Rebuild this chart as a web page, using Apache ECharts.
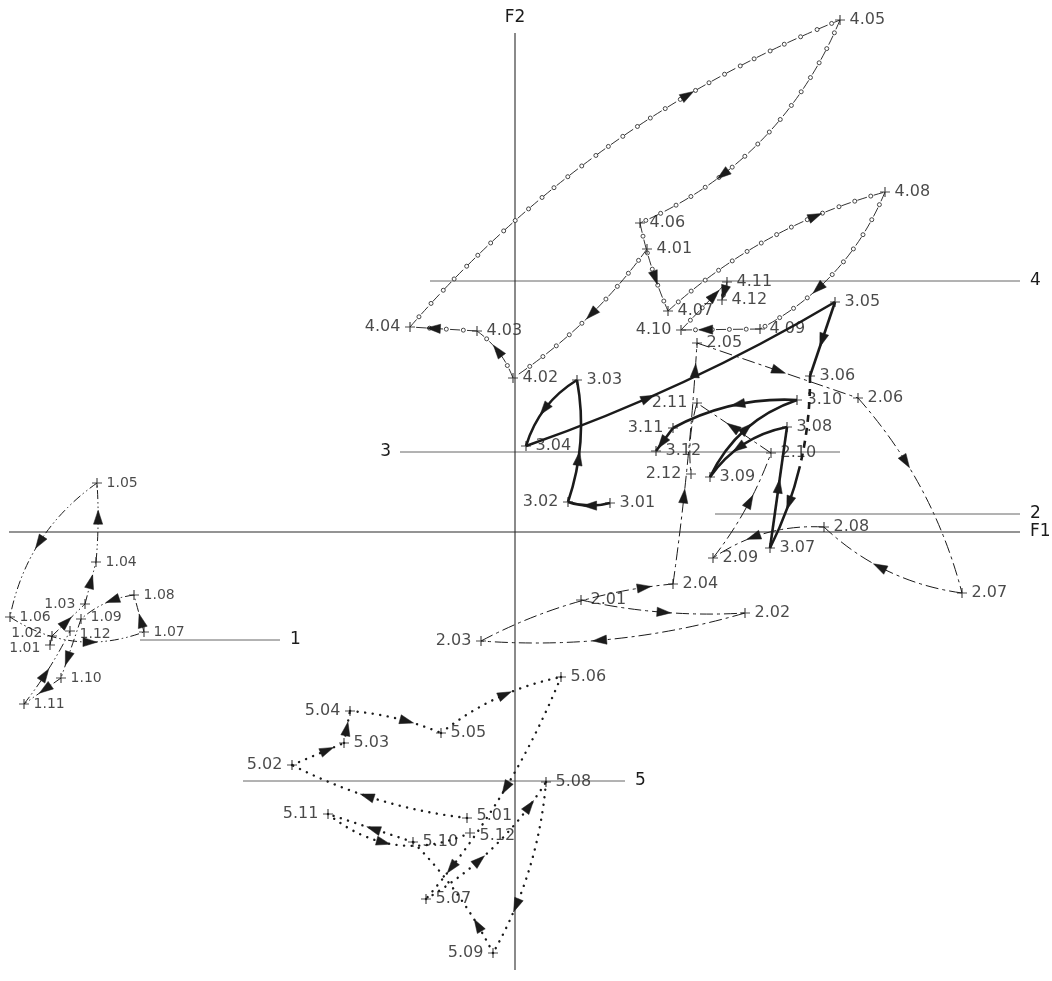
<!DOCTYPE html>
<html>
<head>
<meta charset="utf-8">
<script src="https://cdn.jsdelivr.net/npm/echarts@6/dist/echarts.min.js"></script>
<style>
  html, body { margin: 0; padding: 0; background: #ffffff; }
  #chart { width: 1052px; height: 981px; }
</style>
</head>
<body>
<div id="chart"></div>
<script>
// Monthly positions (.01 … .12) of the five series on the factor plane F1 x F2
const g1F1 = [-4.65, -4.63, -4.30, -4.19, -4.18, -5.05, -3.71, -3.81, -4.34, -4.54, -4.91, -4.45];
const g1F2 = [-1.13, -1.04, -0.72, -0.30, 0.49, -0.85, -1.00, -0.63, -0.87, -1.46, -1.72, -0.99];

const g2F1 = [0.66, 2.30, -0.34, 1.58, 1.82, 3.43, 4.47, 3.09, 1.98, 2.56, 1.82, 1.76];
const g2F2 = [-0.68, -0.81, -1.09, -0.52, 1.89, 1.34, -0.61, 0.05, -0.26, 0.79, 1.29, 0.58];

const g3F1 = [0.95, 0.53, 0.62, 0.11, 3.20, 2.95, 2.55, 2.72, 1.95, 2.82, 1.58, 1.41];
const g3F2 = [0.29, 0.30, 1.52, 0.86, 2.30, 1.56, -0.16, 1.05, 0.55, 1.32, 1.04, 0.81];

const g4F1 = [1.32, -0.02, -0.38, -1.05, 3.25, 1.25, 1.53, 3.70, 2.45, 1.66, 2.12, 2.07];
const g4F2 = [2.83, 1.54, 2.01, 2.05, 5.12, 3.09, 2.21, 3.40, 2.03, 2.02, 2.50, 2.32];

const g5F1 = [-0.48, -2.23, -1.71, -1.65, -0.74, 0.46, -0.89, 0.31, -0.22, -1.02, -1.87, -0.45];
const g5F2 = [-2.86, -2.33, -2.11, -1.79, -2.01, -1.45, -3.67, -2.50, -4.21, -3.10, -2.82, -3.01];

// Mean F2 level of each series (horizontal reference lines) and their names
const groupNames = ['1', '2', '3', '4', '5'];
const groupMeanF2 = [-1.08, 0.18, 0.80, 2.51, -2.49];
const axisNames = ['F1', 'F2'];

// ---- drawing settings ----
// bend: sideways bulge of each month-to-month arc (fraction of its chord, + = right of travel)
// arrowAt: where along each arc the arrow heads sit (0 = start, 1 = end)
const g1Bend = [0, 0, 0, 0.04, 0.2, 0.25, 0, 0.15, 0, 0, 0.05];
const g1ArrowAt = [[], [0.4], [0.5], [0.55], [0.5], [0.6], [0.27], [0.35], [0.65], [0.4], [0.4]];
const g2Bend = [0.07, -0.09, -0.1, 0.02, 0, -0.12, -0.16, 0.17, 0.08, 0, 0.1];
const g2ArrowAt = [[0.5], [0.55], [0.85], [0.36, 0.88], [0.5], [0.35], [0.55], [0.6], [0.55], [0.5], []];
const g3Bend = [-0.15, 0.13, 0.19, 0.05, 0, -0.12, 0, 0.2, -0.21, 0.14, 0];
const g3ArrowAt = [[0.45], [0.35], [0.5], [0.38], [0.5], [0.72], [0.5], [0.55], [0.5], [0.45], [0.6]];
const g4Bend = [-0.09, 0.15, 0, -0.12, -0.2, 0.05, -0.12, -0.18, 0, 0, 0];
const g4ArrowAt = [[0.45], [0.5], [0.63], [0.68], [0.67], [0.6], [0.7], [0.62], [0.67], [0.7], [0.5]];
const g5Bend = [-0.09, 0, 0, -0.08, -0.12, -0.08, 0.12, -0.11, 0.08, 0, 0.3];
const g5ArrowAt = [[0.55], [0.65], [0.4], [0.6], [0.55], [0.47, 0.84], [0.38, 0.82], [0.7], [0.22], [0.45], [0.4]];

const lineLooks = [
  { lineWidth: 1, lineDash: [9, 3, 1.5, 3, 1.5, 3] },   // 1: dash-dot-dot
  { lineWidth: 1, lineDash: [13, 4, 3, 4] },            // 2: long dash / short dash
  { lineWidth: 2.6, lineDash: null },                   // 3: heavy solid
  { lineWidth: 0.9, lineDash: [10, 7], rings: true },   // 4: dash with small rings
  { lineWidth: 2.4, lineDash: [0.1, 7.5], cap: 'round' } // 5: dotted
];
// 3.06 -> 3.07 starts broken, then turns solid
const g3DashOverride = { 5: [7, 6, 7, 6, 7, 6, 7, 6, 7, 6, 7, 6, 7, 6, 400, 1] };

// labels written on the left of their cross
const leftLabels = ['1.01', '1.02', '1.03', '2.03', '2.11', '2.12', '3.02', '3.11',
                    '4.04', '4.10', '5.02', '5.04', '5.09', '5.11'];
// small vertical nudges for crowded labels
const labelNudge = { '1.01': 3, '1.02': -3, '1.09': -2, '1.12': 3, '5.01': -2, '5.12': 3 };
const labelSize = [14, 16, 16, 16, 16];

// extent of the reference lines along F1, and of the two axes
const refFrom = [-3.75, 2.00, -1.15, -0.85, -2.72];
const refTo = [-2.35, 5.05, 3.25, 5.05, 1.10];
const refLabelLeft = [false, false, true, false, false];
const f1Extent = [-5.06, 5.05];
const f2Extent = [-4.38, 4.99];

const ink = '#1b1b1b';
const fontFamily = '"DejaVu Sans", "Liberation Sans", sans-serif';

function quad(p1, c, p2, t) {
  const u = 1 - t;
  return [u * u * p1[0] + 2 * u * t * c[0] + t * t * p2[0],
          u * u * p1[1] + 2 * u * t * c[1] + t * t * p2[1]];
}
function quadTangent(p1, c, p2, t) {
  const u = 1 - t;
  return [2 * u * (c[0] - p1[0]) + 2 * t * (p2[0] - c[0]),
          2 * u * (c[1] - p1[1]) + 2 * t * (p2[1] - c[1])];
}
function arrowHead(pt, tan) {
  const L = 14, W = 4.6;
  const m = Math.hypot(tan[0], tan[1]) || 1;
  const ux = tan[0] / m, uy = tan[1] / m;
  const tip = [pt[0] + ux * L * 0.6, pt[1] + uy * L * 0.6];
  const bx = pt[0] - ux * L * 0.4, by = pt[1] - uy * L * 0.4;
  return {
    type: 'polygon',
    shape: { points: [tip, [bx - uy * W, by + ux * W], [bx + uy * W, by - ux * W]] },
    style: { fill: ink, stroke: ink, lineWidth: 0.5 }
  };
}

function trajectorySeries(gi, xs, ys, bends, arrowsAt, dashOverride) {
  const look = lineLooks[gi];
  const data = [];
  for (let i = 0; i < xs.length - 1; i++) data.push([xs[i], ys[i], xs[i + 1], ys[i + 1], i]);
  return {
    type: 'custom',
    name: 'path ' + groupNames[gi],
    coordinateSystem: 'cartesian2d',
    silent: true,
    z: 3,
    data: data,
    encode: { x: [0, 2], y: [1, 3] },
    renderItem: function (params, api) {
      const p1 = api.coord([api.value(0), api.value(1)]);
      const p2 = api.coord([api.value(2), api.value(3)]);
      const i = api.value(4);
      const dx = p2[0] - p1[0], dy = p2[1] - p1[1];
      const k = bends[i];
      const c = [(p1[0] + p2[0]) / 2 - k * dy, (p1[1] + p2[1]) / 2 + k * dx];
      const dash = (dashOverride && dashOverride[i]) || look.lineDash;
      const children = [{
        type: 'bezierCurve',
        shape: { x1: p1[0], y1: p1[1], x2: p2[0], y2: p2[1], cpx1: c[0], cpy1: c[1] },
        style: {
          fill: null, stroke: ink, lineWidth: look.lineWidth,
          lineDash: dash, lineCap: look.cap || 'butt'
        }
      }];
      if (look.rings) {
        // small open rings sitting in the gaps of the dashes
        const N = 240, pts = [quad(p1, c, p2, 0)], acc = [0];
        for (let j = 1; j <= N; j++) {
          const q = quad(p1, c, p2, j / N);
          acc.push(acc[j - 1] + Math.hypot(q[0] - pts[j - 1][0], q[1] - pts[j - 1][1]));
          pts.push(q);
        }
        const total = acc[N];
        let j = 0;
        for (let s = 13.5; s < total - 4; s += 17) {
          while (j < N && acc[j] < s) j++;
          children.push({
            type: 'circle',
            shape: { cx: pts[j][0], cy: pts[j][1], r: 2 },
            style: { fill: '#fff', stroke: ink, lineWidth: 0.8 }
          });
        }
      }
      (arrowsAt[i] || []).forEach(function (t) {
        children.push(arrowHead(quad(p1, c, p2, t), quadTangent(p1, c, p2, t)));
      });
      return { type: 'group', children: children };
    }
  };
}

function markerSeries(gi, xs, ys) {
  const data = xs.map(function (x, i) {
    const name = groupNames[gi] + '.' + String(i + 1).padStart(2, '0');
    return {
      value: [x, ys[i]],
      name: name,
      label: {
        position: leftLabels.indexOf(name) >= 0 ? 'left' : 'right',
        offset: [0, labelNudge[name] || 0]
      }
    };
  });
  return {
    type: 'scatter',
    name: 'months ' + groupNames[gi],
    silent: true,
    z: 5,
    symbol: 'path://M5,0L5,10M0,5L10,5',
    symbolSize: 10,
    itemStyle: { color: 'transparent', borderColor: ink, borderWidth: 1.2 },
    label: {
      show: true, formatter: '{b}', distance: 4,
      fontFamily: fontFamily, fontSize: labelSize[gi], color: ink
    },
    data: data
  };
}

// horizontal guides: F1 axis plus the mean-level line of each series
const guideData = groupMeanF2.map(function (y, i) { return [refFrom[i], refTo[i], y, i]; });
guideData.push([f1Extent[0], f1Extent[1], 0, -1]);

const guideSeries = {
  type: 'custom',
  name: 'guides',
  coordinateSystem: 'cartesian2d',
  silent: true,
  z: 1,
  data: guideData,
  encode: { x: [0, 1], y: 2 },
  renderItem: function (params, api) {
    const a = api.coord([api.value(0), api.value(2)]);
    const b = api.coord([api.value(1), api.value(2)]);
    const i = api.value(3);
    const isAxis = i < 0;
    const onLeft = !isAxis && refLabelLeft[i];
    return {
      type: 'group',
      children: [{
        type: 'line',
        shape: { x1: a[0], y1: a[1], x2: b[0], y2: b[1] },
        style: { stroke: isAxis ? '#2a2a2a' : '#555', lineWidth: isAxis ? 1.1 : 0.9 }
      }, {
        type: 'text',
        style: {
          text: isAxis ? axisNames[0] : groupNames[i],
          x: onLeft ? a[0] - 9 : b[0] + 10, y: a[1],
          align: onLeft ? 'right' : 'left', verticalAlign: 'middle',
          fontFamily: fontFamily, fontSize: 17, fill: ink
        }
      }]
    };
  }
};

const f2AxisSeries = {
  type: 'custom',
  name: 'F2 axis',
  coordinateSystem: 'cartesian2d',
  silent: true,
  z: 1,
  data: [[0, f2Extent[0], f2Extent[1]]],
  encode: { x: 0, y: [1, 2] },
  renderItem: function (params, api) {
    const a = api.coord([api.value(0), api.value(1)]);
    const b = api.coord([api.value(0), api.value(2)]);
    return {
      type: 'group',
      children: [{
        type: 'line',
        shape: { x1: a[0], y1: a[1], x2: b[0], y2: b[1] },
        style: { stroke: '#2a2a2a', lineWidth: 1.1 }
      }, {
        type: 'text',
        style: {
          text: axisNames[1], x: b[0], y: b[1] - 15,
          align: 'center', verticalAlign: 'middle',
          fontFamily: fontFamily, fontSize: 17, fill: ink
        }
      }]
    };
  }
};

const chart = echarts.init(document.getElementById('chart'), null, { renderer: 'canvas' });
chart.setOption({
  backgroundColor: '#ffffff',
  animation: false,
  grid: { left: 0, right: 0, top: 0, bottom: 0 },
  xAxis: { type: 'value', min: -5.15, max: 5.37, show: false },
  yAxis: { type: 'value', min: -4.49, max: 5.32, show: false },
  series: [
    guideSeries,
    f2AxisSeries,
    trajectorySeries(0, g1F1, g1F2, g1Bend, g1ArrowAt),
    trajectorySeries(1, g2F1, g2F2, g2Bend, g2ArrowAt),
    trajectorySeries(2, g3F1, g3F2, g3Bend, g3ArrowAt, g3DashOverride),
    trajectorySeries(3, g4F1, g4F2, g4Bend, g4ArrowAt),
    trajectorySeries(4, g5F1, g5F2, g5Bend, g5ArrowAt),
    markerSeries(0, g1F1, g1F2),
    markerSeries(1, g2F1, g2F2),
    markerSeries(2, g3F1, g3F2),
    markerSeries(3, g4F1, g4F2),
    markerSeries(4, g5F1, g5F2)
  ]
});
</script>
</body>
</html>
